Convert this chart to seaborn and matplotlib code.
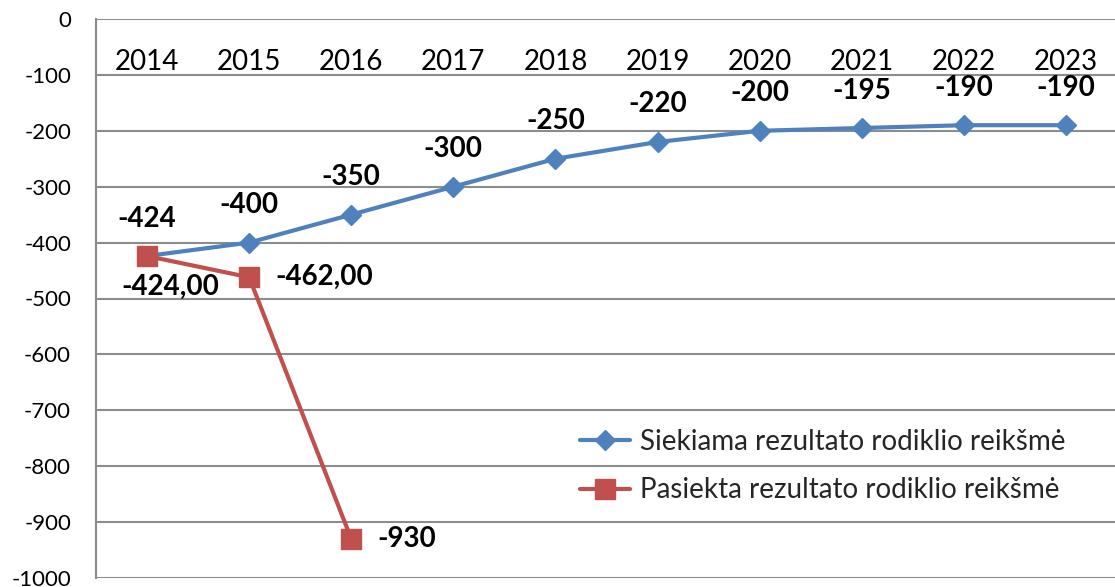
import matplotlib
matplotlib.use("Agg")
import matplotlib.pyplot as plt
import seaborn as sns
import pandas as pd

years = [2014, 2015, 2016, 2017, 2018, 2019, 2020, 2021, 2022, 2023]
target = [-424, -400, -350, -300, -250, -220, -200, -195, -190, -190]
achieved_years = [2014, 2015, 2016]
achieved = [-424.00, -462.00, -930.00]
achieved_labels = ["-424,00", "-462,00", "-930"]
target_name = "Siekiama rezultato rodiklio reikšmė"
achieved_name = "Pasiekta rezultato rodiklio reikšmė"
yticks = [0, -100, -200, -300, -400, -500, -600, -700, -800, -900, -1000]

sns.set_theme(style="white")
plt.rcParams['font.family'] = ['Lato', 'DejaVu Sans']

BLUE = "#4F81BD"
RED = "#C0504D"
GRID = "#8C8C8C"

fig = plt.figure(figsize=(11.15, 5.87), dpi=100)
ax = fig.add_axes([96/1115, 1-578/587, 1-96/1115, (578-19)/587])

df_t = pd.DataFrame({"year": years, "value": target})
df_a = pd.DataFrame({"year": achieved_years, "value": achieved})

sns.lineplot(data=df_t, x="year", y="value", ax=ax, color=BLUE, lw=3,
             marker="D", markersize=10, markeredgecolor=BLUE, markeredgewidth=1,
             label=target_name)
sns.lineplot(data=df_a, x="year", y="value", ax=ax, color=RED, lw=3,
             marker="s", markersize=14, markeredgecolor=RED, markeredgewidth=1,
             label=achieved_name)

ax.set_xlim(2013.5, 2013.5 + (1115-96)/102.1)
ax.set_ylim(-1000, 0)
ax.set_yticks(yticks)
ax.set_yticklabels([str(v) for v in yticks])
ax.set_xticks(years)
ax.set_xticklabels([str(y) for y in years])
ax.xaxis.tick_top()
ax.tick_params(axis="x", length=0, pad=-31, labelsize=20, labelcolor="black")
for lab in ax.get_xticklabels():
    lab.set_va("center")
ax.tick_params(axis="y", length=0, pad=18, labelsize=16, labelcolor="black")
ax.set_xlabel("")
ax.set_ylabel("")

ax.grid(axis="y", color=GRID, lw=1.5)
ax.grid(axis="x", visible=False)
for s in ["top", "right", "bottom"]:
    ax.spines[s].set_visible(False)
ax.spines["left"].set_color(GRID)
ax.spines["left"].set_linewidth(1.5)

for x, v in zip(years, target):
    ax.annotate(f"{v:d}", (x, v), xytext=(0, 27), textcoords="offset points",
                ha="center", va="center", fontsize=20, fontweight="bold", color="black")

red_offsets = [(17, -22, "center"), (19, 0, "left"), (19, 0, "left")]
for x, v, txt, (dx, dy, ha) in zip(achieved_years, achieved, achieved_labels, red_offsets):
    ax.annotate(txt, (x, v), xytext=(dx, dy),
                textcoords="offset points", ha=ha, va="center",
                fontsize=20, fontweight="bold", color="black")

ax.legend(loc="upper left", bbox_to_anchor=(580/1115, 1-429/587),
          bbox_transform=fig.transFigure, frameon=False, fontsize=20,
          borderpad=0, borderaxespad=0, handlelength=1.8, handletextpad=0.36,
          labelspacing=0.8)

fig.savefig("out.png", dpi=100)
